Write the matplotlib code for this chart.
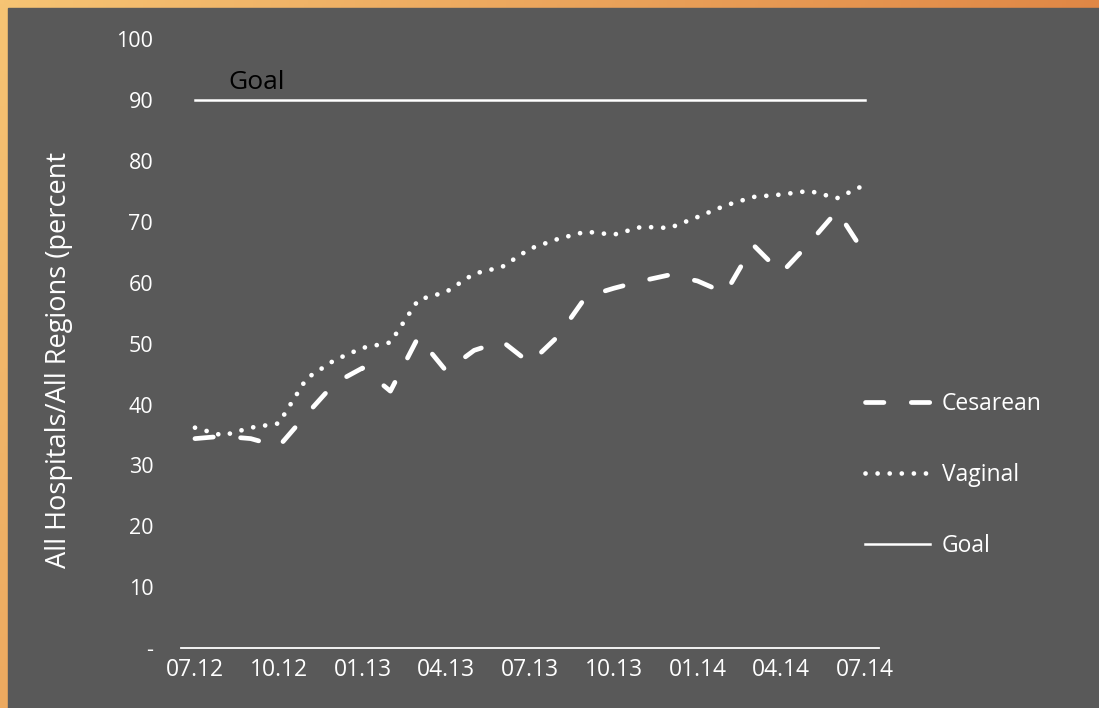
import numpy as np
import matplotlib
matplotlib.use("Agg")
import matplotlib.pyplot as plt
from matplotlib.patches import Rectangle
from matplotlib.colors import to_rgb

BG = "#595959"
FG = "white"

# monthly categories 07.12 -> 07.14
months = ["07.12", "08.12", "09.12", "10.12", "11.12", "12.12",
          "01.13", "02.13", "03.13", "04.13", "05.13", "06.13",
          "07.13", "08.13", "09.13", "10.13", "11.13", "12.13",
          "01.14", "02.14", "03.14", "04.14", "05.14", "06.14", "07.14"]
cesarean = [34.4, 34.8, 34.4, 33.1, 38.4, 43.5, 46.0, 42.2, 51.1, 45.5,
            48.9, 50.4, 46.8, 51.2, 57.7, 59.1, 60.3, 61.3, 60.3, 58.3,
            66.2, 61.6, 66.5, 71.8, 64.7]
vaginal = [36.2, 34.9, 36.2, 36.9, 44.3, 47.3, 49.3, 50.2, 57.2, 58.5,
           61.5, 62.6, 65.6, 67.2, 68.4, 67.9, 69.2, 69.0, 70.8, 72.7,
           74.1, 74.5, 75.1, 73.9, 76.1]
goal = 90
yticks = [0, 10, 20, 30, 40, 50, 60, 70, 80, 90, 100]
ytick_labels = ["-", "10", "20", "30", "40", "50", "60", "70", "80", "90", "100"]

plt.rcParams["font.family"] = ["Open Sans", "DejaVu Sans"]

fig = plt.figure(figsize=(10.99, 7.08), dpi=100)

# orange gradient frame behind the gray panel
bg_ax = fig.add_axes([0, 0, 1, 1], zorder=-2)
gx, gy = np.meshgrid(np.linspace(0, 1, 300), np.linspace(0, 1, 200))
t = np.clip(0.8 * gx + 0.35 * gy, 0, 1)[..., None]
c0, c1 = np.array(to_rgb("#F6C474")), np.array(to_rgb("#DB783A"))
bg_ax.imshow(c0 + (c1 - c0) * t, extent=[0, 1, 0, 1], aspect="auto", origin="upper")
bg_ax.add_patch(Rectangle((8 / 1099, 0), 1, 700 / 708, color=BG))
bg_ax.set_xlim(0, 1)
bg_ax.set_ylim(0, 1)
bg_ax.axis("off")

ax = fig.add_axes([0.1647, 0.0847, 0.6351, 0.8598])
ax.set_facecolor("none")
x = np.arange(len(months))

lw = 3.4
ax.plot(x, cesarean, color=FG, lw=lw, linestyle=(0, (3.9, 5.8)),
        dash_capstyle="round", label="Cesarean")
ax.plot(x, vaginal, color=FG, lw=lw, linestyle=(0, (0.01, 2.55)),
        dash_capstyle="round", label="Vaginal")
ax.plot(x, [goal] * len(months), color=FG, lw=1.8, label="Goal")
ax.text(1.2, goal + 0.8, "Goal", color="black", fontsize=19, ha="left", va="bottom")

ax.set_xlim(-0.5, len(months) - 0.5)
ax.set_ylim(0, 100)
ax.set_xticks(x[::3])
ax.set_xticklabels(months[::3], fontsize=16.5, color=FG)
ax.set_yticks(yticks)
ax.set_yticklabels(ytick_labels, fontsize=15.5, color=FG)
ax.tick_params(axis="both", length=0)
ax.tick_params(axis="x", pad=7)
ax.tick_params(axis="y", pad=20)
for side in ["top", "right", "left"]:
    ax.spines[side].set_visible(False)
ax.spines["bottom"].set_color(FG)
ax.spines["bottom"].set_linewidth(1.3)

fig.text(59 / 1099, 1 - 360 / 708, "All Hospitals/All Regions (percent",
         rotation=90, ha="center", va="center", color=FG, fontsize=19.5)

ax.legend(loc="upper left", bbox_to_anchor=(865 / 1099, 1 - 392 / 708),
          bbox_transform=fig.transFigure, frameon=False, borderpad=0,
          borderaxespad=0, handlelength=2.85, handletextpad=0.5,
          labelspacing=2.05, fontsize=16.5, labelcolor=FG)

fig.savefig("out.png", dpi=100, facecolor=BG)
